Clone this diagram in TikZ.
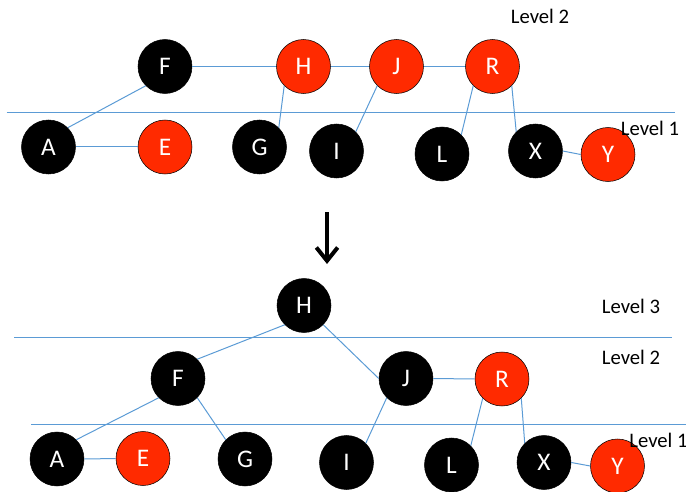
\documentclass[tikz,border=0pt]{standalone}
\usepackage{fontspec}
\setmainfont{Carlito}
\usetikzlibrary{arrows.meta}
\definecolor{nodered}{HTML}{FF2A00}
\definecolor{linkblue}{HTML}{5B9BD5}

\begin{document}
\begin{tikzpicture}[x=0.75pt,y=-0.75pt]
		\tikzstyle{bnode} = [circle,draw=black,thin,fill=black,text=white,minimum size=40.5pt,inner sep=0pt,font=\fontsize{19}{22}\selectfont]
		\tikzstyle{rnode} = [bnode,fill=nodered]
		\tikzstyle{link} = [draw=linkblue,line width=0.75pt]
		\tikzstyle{level} = [font=\fontsize{15.5}{18}\selectfont]
		
		\useasboundingbox (0,0) rectangle (686,492);
		
		% before the split: H, J and R sit with F on level 2
		\draw[link] (6.6,112.7) -- (675,112.7);
		
		\node[bnode] (f1) at (165,66.5) {F};
		\node[rnode] (h1) at (303.5,66.5) {H};
		\node[rnode] (j1) at (396.5,66.5) {J};
		\node[rnode] (r1) at (492.5,66.5) {R};
		
		\node[bnode] (a1) at (48.5,147) {A};
		\node[rnode] (e1) at (165,147) {E};
		\node[bnode] (g1) at (259.5,147) {G};
		\node[bnode] (i1) at (336.5,151) {I};
		\node[bnode] (l1) at (442,154) {L};
		\node[bnode] (x1) at (535.5,151) {X};
		\node[rnode] (y1) at (608,154.5) {Y};
		
		\path[link] (f1) edge (h1);
		\path[link] (h1) edge (j1);
		\path[link] (j1) edge (r1);
		\path[link] (a1.north east) edge (f1.south west);
		\path[link] (a1) edge (e1);
		\path[link] (h1.south west) edge (g1.north east);
		\path[link] (j1.south west) edge (i1.north east);
		\path[link] (r1.south west) edge (l1.north east);
		\path[link] (r1.south east) edge (x1.north west);
		\path[link] (x1.east) edge (y1.west);
		
		\node[level] (lv2a) at (540,16) {Level 2};
		\node[level] (lv1a) at (650,128.3) {Level 1};
		
		% the split
		\coordinate (arrtop) at (327,212);
		\coordinate (arrtip) at (327,264);
		\draw[line width=3pt,-{Straight Barb[length=10pt,width=16pt]}] (arrtop) -- (arrtip);
		
		% after the split: H moves up to level 3
		\draw[link] (14,337.3) -- (672,337.3);
		\draw[link] (31,424.3) -- (686,424.3);
		
		\node[bnode] (h2) at (304,305.5) {H};
		\node[bnode] (f2) at (178,378.5) {F};
		\node[bnode] (j2) at (406,378.5) {J};
		\node[rnode] (r2) at (502,379) {R};
		
		\node[bnode] (a2) at (57,459) {A};
		\node[rnode] (e2) at (143,458.5) {E};
		\node[bnode] (g2) at (245,459) {G};
		\node[bnode] (i2) at (346.5,462.5) {I};
		\node[bnode] (l2) at (451.5,465) {L};
		\node[bnode] (x2) at (544,462.5) {X};
		\node[rnode] (y2) at (617.5,466) {Y};
		
		\path[link] (h2.south west) edge (f2.north east);
		\path[link] (h2.south east) edge (j2.west);
		\path[link] (f2.south west) edge (a2.north east);
		\path[link] (f2.south east) edge (g2.north west);
		\path[link] (a2) edge (e2);
		\path[link] (j2.south west) edge (i2.north east);
		\path[link] (j2) edge (r2);
		\path[link] (r2.south west) edge (l2.north east);
		\path[link] (r2.south east) edge (x2.north west);
		\path[link] (x2.east) edge (y2.west);
		
		\node[level] (lv3b) at (631,306.7) {Level 3};
		\node[level] (lv2b) at (631,357.5) {Level 2};
		\node[level] (lv1b) at (658.5,440) {Level 1};
	\end{tikzpicture}
\end{document}
